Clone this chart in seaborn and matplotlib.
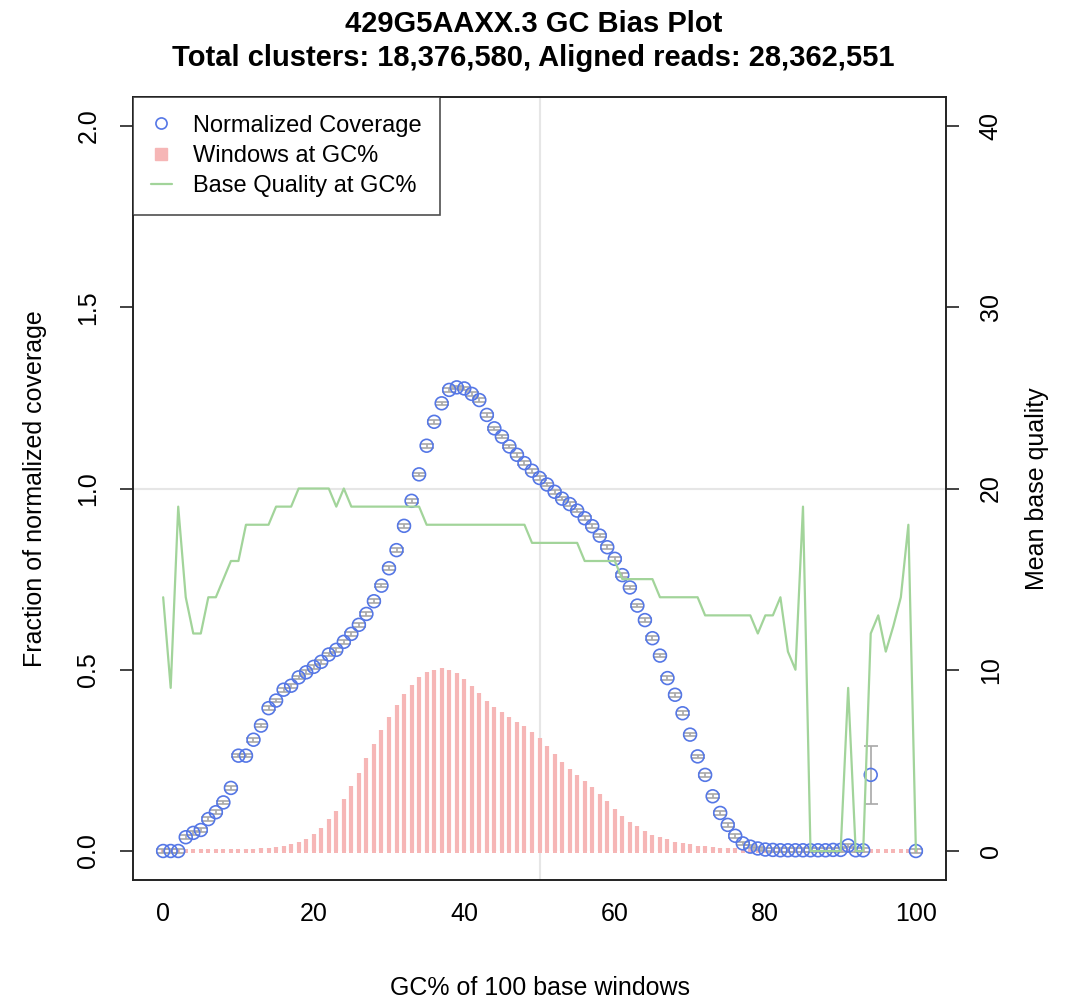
import numpy as np
import pandas as pd
import seaborn as sns
import matplotlib
matplotlib.use("Agg")
import matplotlib.pyplot as plt
from matplotlib.lines import Line2D

# GC% bins 0..100
gc = list(range(101))

# normalized coverage (95-99 have no windows)
nan = np.nan
coverage = [0.0, 0.0, 0.0, 0.038, 0.05, 0.058, 0.088, 0.107, 0.134, 0.174,
            0.263, 0.263, 0.307, 0.346, 0.394, 0.415, 0.445, 0.456, 0.479, 0.493,
            0.508, 0.522, 0.542, 0.555, 0.577, 0.599, 0.624, 0.654, 0.689, 0.732,
            0.780, 0.830, 0.897, 0.966, 1.039, 1.118, 1.184, 1.235, 1.272, 1.279,
            1.276, 1.261, 1.244, 1.203, 1.166, 1.143, 1.116, 1.093, 1.070, 1.049,
            1.029, 1.011, 0.991, 0.972, 0.957, 0.939, 0.918, 0.896, 0.870, 0.838,
            0.806, 0.761, 0.727, 0.677, 0.637, 0.587, 0.539, 0.477, 0.431, 0.380,
            0.321, 0.261, 0.210, 0.151, 0.105, 0.072, 0.042, 0.021, 0.012, 0.007,
            0.004, 0.003, 0.002, 0.002, 0.002, 0.002, 0.002, 0.002, 0.002, 0.003,
            0.003, 0.015, 0.002, 0.002, 0.210, nan, nan, nan, nan, nan, 0.0]
coverage_err = [0.005] * 94 + [0.08] + [nan] * 5 + [0.005]

# fraction of windows at each GC%
windows = [0.001, 0.001, 0.001, 0.001, 0.001, 0.002, 0.002, 0.002, 0.003, 0.003,
           0.004, 0.005, 0.006, 0.007, 0.009, 0.011, 0.015, 0.018, 0.024, 0.034,
           0.047, 0.064, 0.087, 0.111, 0.143, 0.180, 0.215, 0.256, 0.295, 0.335,
           0.370, 0.404, 0.433, 0.458, 0.479, 0.493, 0.500, 0.504, 0.500, 0.491,
           0.474, 0.456, 0.436, 0.415, 0.398, 0.383, 0.369, 0.357, 0.346, 0.329,
           0.311, 0.290, 0.268, 0.245, 0.226, 0.210, 0.194, 0.177, 0.157, 0.137,
           0.116, 0.097, 0.081, 0.068, 0.056, 0.045, 0.038, 0.032, 0.026, 0.022,
           0.018, 0.015, 0.013, 0.010, 0.009, 0.008, 0.007, 0.006, 0.005, 0.004,
           0.004, 0.003, 0.003, 0.003, 0.002, 0.002, 0.002, 0.002, 0.002, 0.002,
           0.001, 0.001, 0.001, 0.001, 0.001, 0.001, 0.001, 0.001, 0.001, 0.001, 0.001]

# mean base quality at each GC%
quality = [14, 9, 19, 14, 12, 12, 14, 14, 15, 16,
           16, 18, 18, 18, 18, 19, 19, 19, 20, 20,
           20, 20, 20, 19, 20, 19, 19, 19, 19, 19,
           19, 19, 19, 19, 19, 18, 18, 18, 18, 18,
           18, 18, 18, 18, 18, 18, 18, 18, 18, 17,
           17, 17, 17, 17, 17, 17, 16, 16, 16, 16,
           16, 15, 15, 15, 15, 15, 14, 14, 14, 14,
           14, 14, 13, 13, 13, 13, 13, 13, 13, 12,
           13, 13, 14, 11, 10, 19, 0, 0, 0, 0,
           0, 9, 0, 0, 12, 13, 11, 12.4, 14, 18, 0]

title = "429G5AAXX.3 GC Bias Plot\nTotal clusters: 18,376,580, Aligned reads: 28,362,551"

BLUE = "#5577e6"
PINK = "#f6b6b6"
GREEN = "#a2d49a"
AXC = "#222222"

sns.set_theme(style="white")
plt.rcParams["font.family"] = ["Liberation Sans", "DejaVu Sans"]
plt.rcParams["text.color"] = "black"
plt.rcParams["axes.labelcolor"] = "black"

df = pd.DataFrame({"gc": gc, "coverage": coverage, "err": coverage_err,
                   "windows": windows, "quality": quality})

fig = plt.figure(figsize=(10.67, 10.0), dpi=100)
ax = fig.add_axes([0.1247, 0.12, 0.7619, 0.783])

# reference lines
ax.axvline(50, color="#e6e6e6", lw=1.5, zorder=0)
ax.axhline(1.0, color="#e6e6e6", lw=1.5, zorder=0)

# windows at GC% as thick vertical bars
ax.vlines(df["gc"], 0, df["windows"], color=PINK, lw=3, zorder=1)
ax.scatter(df["gc"], [0] * len(df), marker="s", s=9, color=PINK,
           linewidths=0, zorder=1)

# coverage with error bars
ax.errorbar(df["gc"], df["coverage"], yerr=df["err"], fmt="none",
            ecolor="#a8a8a8", elinewidth=1.2, capsize=5, capthick=1.2, zorder=2)
sns.scatterplot(data=df, x="gc", y="coverage", ax=ax, marker="o", s=85,
                facecolor="none", edgecolor=BLUE, linewidth=1.2, zorder=3)

ax.set_xlim(-4, 104)
ax.set_ylim(-0.08, 2.08)
ax.set_xticks([0, 20, 40, 60, 80, 100])
ax.set_yticks([0.0, 0.5, 1.0, 1.5, 2.0])
ax.set_yticklabels(["0.0", "0.5", "1.0", "1.5", "2.0"], rotation=90, va="center")
ax.tick_params(axis="both", direction="out", length=9.5, width=1.2,
               labelsize=18, colors=AXC, labelcolor="black")
ax.tick_params(axis="x", pad=6)
ax.tick_params(axis="y", pad=14)
ax.set_xlabel("GC% of 100 base windows", fontsize=18, labelpad=36)
ax.set_ylabel("Fraction of normalized coverage", fontsize=18, labelpad=21)
for sp in ax.spines.values():
    sp.set_color(AXC)
    sp.set_linewidth(1.2)

# base quality on the secondary axis
ax2 = ax.twinx()
sns.lineplot(data=df, x="gc", y="quality", ax=ax2, color=GREEN, lw=1.6, zorder=2)
ax2.set_ylim(-1.6, 41.6)
ax2.set_yticks([0, 10, 20, 30, 40])
ax2.set_yticklabels(["0", "10", "20", "30", "40"], rotation=90, va="center")
ax2.tick_params(axis="y", direction="out", length=9.5, width=1.2,
                labelsize=18, pad=14, colors=AXC, labelcolor="black")
ax2.set_ylabel("Mean base quality", fontsize=18, labelpad=16)
ax2.set_xlabel("")
for sp in ax2.spines.values():
    sp.set_color(AXC)
    sp.set_linewidth(1.2)

handles = [
    Line2D([], [], ls="none", marker="o", markersize=8, markerfacecolor="none",
           markeredgecolor=BLUE, markeredgewidth=1.2),
    Line2D([], [], ls="none", marker="s", markersize=8, color=PINK),
    Line2D([], [], color=GREEN, lw=1.6),
]
leg = ax2.legend(handles, ["Normalized Coverage", "Windows at GC%", "Base Quality at GC%"],
                 loc="upper left", bbox_to_anchor=(0, 1), borderaxespad=0,
                 fontsize=17, frameon=True, fancybox=False, handlelength=0.9,
                 handletextpad=0.9, borderpad=0.75, labelspacing=0.35)
leg.get_frame().set_edgecolor(AXC)
leg.get_frame().set_linewidth(1.2)

fig.suptitle(title, fontsize=21, fontweight="bold", y=0.99, linespacing=1.25)

fig.savefig("out.png", dpi=100, facecolor="white")
